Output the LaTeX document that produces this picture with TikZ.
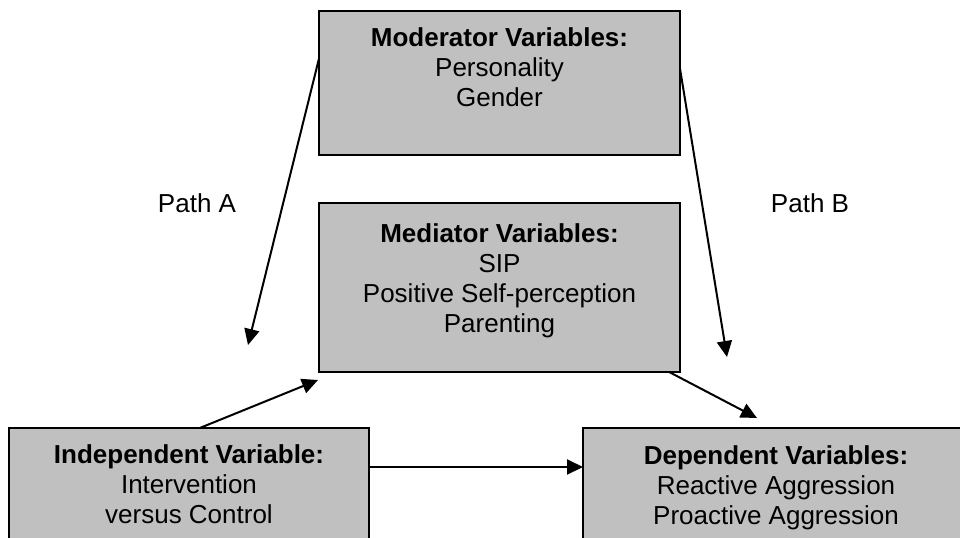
\documentclass[tikz,border=0pt]{standalone}
\usepackage{fontspec}
\setmainfont{Liberation Sans}
\usetikzlibrary{arrows.meta,calc}
\definecolor{gris}{RGB}{192,192,192}
\begin{document}
\begin{tikzpicture}[x=0.5pt,y=-0.5pt]
\tikzset{boite/.style={draw, line width=1pt, fill=gris, rectangle, inner sep=0pt, outer sep=0pt}}
\tikzset{texte/.style={align=center, anchor=north, inner sep=0pt, font=\fontsize{13}{15}\selectfont}}
\tikzset{fleche/.style={line width=1pt, -{Triangle[length=8pt,width=7.5pt]}}}
\useasboundingbox (0,0) rectangle (960,537);
\clip (0,0) rectangle (960,537);
\node[boite, minimum width=180.5pt, minimum height=72pt] (Mod) at (499.5,83) {};
\node[boite, minimum width=180.5pt, minimum height=84.5pt] (Med) at (499.5,287.5) {};
\node[boite, minimum width=180pt, minimum height=66pt] (Ind) at (189,494) {};
\node[boite, minimum width=193pt, minimum height=66pt] (Dep) at (776,494) {};
\node[texte] (ModT) at (499.5,27) {\textbf{Moderator Variables:}\\Personality\\Gender};
\node[texte] (MedT) at (499.5,223) {\textbf{Mediator Variables:}\\SIP\\Positive Self-perception\\Parenting};
\node[texte] (IndT) at (189,444) {\textbf{Independent Variable:}\\Intervention\\versus Control};
\node[texte] (DepT) at (776,445) {\textbf{Dependent Variables:}\\Reactive Aggression\\Proactive Aggression};
\node[inner sep=0pt, font=\fontsize{13}{15}\selectfont] (PathA) at (197,203) {Path A};
\node[inner sep=0pt, font=\fontsize{13}{15}\selectfont] (PathB) at (810,203) {Path B};
\coordinate (A) at (248,345);
\coordinate (B) at (727,357);
\coordinate (C) at (318,380);
\coordinate (D) at (757,418);
\draw[fleche] ($(Mod.north west)!0.33!(Mod.south west)$) -- (A);
\draw[fleche] ($(Mod.north east)!0.4!(Mod.south east)$) -- (B);
\draw[fleche] ($(Ind.north west)!0.53!(Ind.north east)$) -- (C);
\draw[fleche] ($(Med.south west)!0.97!(Med.south east)$) -- (D);
\draw[fleche] ($(Ind.north east)+(0,39)$) -- ($(Dep.north west)+(0,39)$);
\end{tikzpicture}
\end{document}
